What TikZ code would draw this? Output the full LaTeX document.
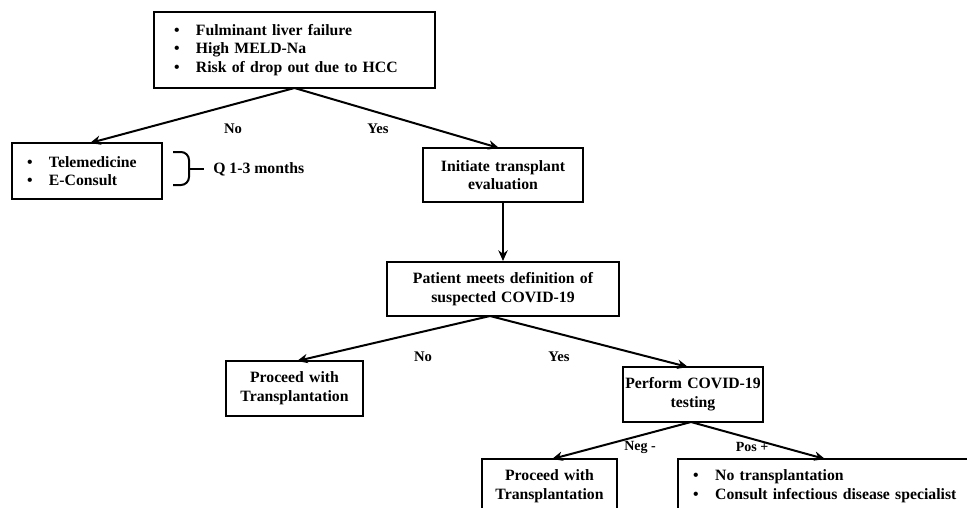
\documentclass[tikz,border=0pt]{standalone}
\usepackage{fontspec}
\setmainfont{Liberation Serif}
\usetikzlibrary{arrows.meta}
\tikzset{
  box/.style={draw, line width=1.5pt, rectangle, inner sep=0pt, align=center,
    font=\bfseries\fontsize{11.8}{14}\selectfont},
  lbl/.style={font=\bfseries\fontsize{11}{12}\selectfont, inner sep=0pt},
  arr/.style={line width=1.5pt, -{Stealth[length=8pt,width=7pt]}},
}
\newcommand{\bul}{\makebox[16.5pt][l]{•}}
\begin{document}
\begin{tikzpicture}[x=0.75pt,y=-0.75pt]
\useasboundingbox (0,0) rectangle (967,507);
\clip (0,0) rectangle (967,507);
\node[box, minimum width=210.75pt, minimum height=57pt, text width=180.75pt, align=left] (top) at (294.5,50)
  {\bul Fulminant liver failure\\ \bul High MELD-Na\\ \bul Risk of drop out due to HCC};
\node[box, minimum width=112.5pt, minimum height=42pt, text width=90pt, align=left, font=\bfseries\fontsize{11.8}{13.5}\selectfont] (tele) at (87,171)
  {\bul Telemedicine\\ \bul E-Consult};
\node[box, minimum width=120pt, minimum height=40.5pt, text width=114pt] (init) at (503,175)
  {Initiate transplant\\ evaluation};
\node[box, minimum width=174pt, minimum height=40.5pt, text width=168pt] (susp) at (503,289)
  {Patient meets definition of\\ suspected COVID-19};
\node[box, minimum width=102.75pt, minimum height=41.25pt, text width=98pt] (proc1) at (294.5,388.5)
  {Proceed with\\ Transplantation};
\node[box, minimum width=105pt, minimum height=41.25pt, text width=105pt] (perf) at (693,394.5)
  {Perform COVID-19\\ testing};
\node[box, minimum width=101.25pt, minimum height=41.25pt, text width=98pt] (proc2) at (549.5,486.5)
  {Proceed with\\ Transplantation};
\node[box, minimum width=222.75pt, minimum height=41.25pt, text width=200pt, align=left] (nottx) at (826.5,486.5)
  {\bul No transplantation\\ \bul Consult infectious disease specialist};
% connectors
\coordinate (topS) at (294.5,88);
\coordinate (suspS) at (490,316);
\coordinate (perfS) at (691,422);
\draw[arr] (topS) -- (90,143) coordinate (teleN);
\draw[arr] (topS) -- (499,148) coordinate (initN);
\draw[arr] (init.south) -- (susp.north);
\draw[arr] (suspS) -- (297,361) coordinate (proc1N);
\draw[arr] (suspS) -- (688,367) coordinate (perfN);
\draw[arr] (perfS) -- (552,459) coordinate (proc2N);
\draw[arr] (perfS) -- (825,459) coordinate (nottxN);
% labels
\node[lbl] (no1) at (233,129) {No};
\node[lbl] (yes1) at (378,129) {Yes};
\node[lbl] (no2) at (423,357) {No};
\node[lbl] (yes2) at (559,357) {Yes};
\node[lbl, font=\bfseries\fontsize{10.5}{12}\selectfont] (neg) at (640,447) {Neg -};
\node[lbl, font=\bfseries\fontsize{10.5}{12}\selectfont] (pos) at (752,447) {Pos +};
% brace
\coordinate (bt) at (173,152);
\coordinate (bb) at (173,185);
\coordinate (btip) at (190,168.5);
\coordinate (bend) at (204,168.5);
\draw[line width=1.5pt, rounded corners=6pt] (bt) -- (189,152) -- (189,185) -- (bb);
\draw[line width=1.5pt] (btip) -- (bend);
\node[lbl, anchor=west, font=\bfseries\fontsize{11.8}{13}\selectfont] (q) at (213,169) {Q 1-3 months};
\end{tikzpicture}
\end{document}
